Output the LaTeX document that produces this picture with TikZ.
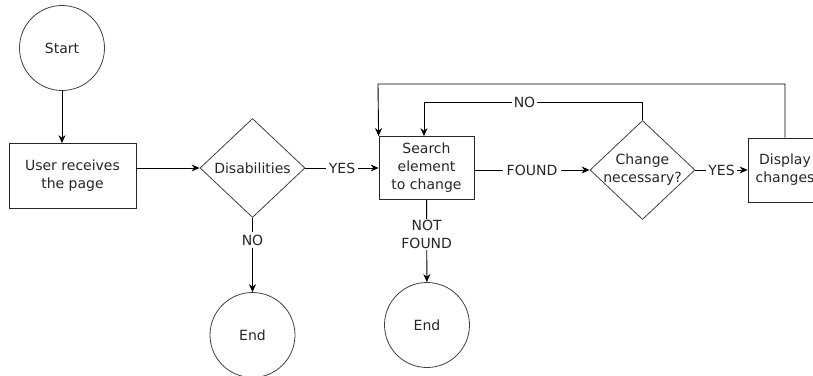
\documentclass[tikz,border=0pt]{standalone}
\usepackage{fontspec}
\setmainfont{DejaVu Sans}
\usetikzlibrary{positioning, shapes.geometric, arrows.meta}

\begin{document}
\begin{tikzpicture}[
    x=1pt, y=-1pt,
    font=\fontsize{14}{18}\selectfont,
    terminal/.style={circle, draw=black!75, line width=0.8pt, minimum size=85pt, inner sep=0pt, text=black!85},
    process/.style={rectangle, draw=black!85, line width=0.8pt, inner sep=0pt, align=center, text=black!85},
    decision/.style={diamond, draw=black!75, line width=0.8pt, inner sep=0pt, aspect=1.05, minimum width=105pt, minimum height=99pt, align=center, text=black!85},
    arrow/.style={-{Stealth[length=8pt, width=7pt]}, line width=0.9pt},
    lbl/.style={fill=white, inner sep=3pt, text=black!85, align=center}
]
\useasboundingbox (0,0) rectangle (813,375);
\clip (0,0) rectangle (813,375);

% Start and user
\node[terminal] (start) at (62,48) {Start};
\node[process, minimum width=127pt, minimum height=65pt] (user) at (72.5,176) {User receives\\the page};

% Decisions and processing
\node[decision] (dis) at (252.5,168) {Disabilities};
\node[process, minimum width=95pt, minimum height=63pt] (search) at (426.5,168) {Search\\element\\to change};
\node[decision, inner sep=-5pt] (chg) at (642.5,170) {Change\\necessary?};
\node[process, minimum width=74pt, minimum height=64pt] (disp) at (785,170) {Display\\changes};

% End states
\node[terminal] (end1) at (252.5,335) {End};
\node[terminal] (end2) at (427,325) {End};

% Loop corners
\coordinate (topturn) at (378,84);
\coordinate (noturn) at (424,102);

% Main flow
\draw[arrow] (start) -- (start |- user.north);
\draw[arrow] (dis.west -| user.east) -- (dis.west);
\draw[arrow] (dis) -- node[lbl]{YES} (search);
\draw[arrow] (search.east |- chg.west) -- node[lbl, inner sep=4pt]{FOUND} (chg.west);
\draw[arrow] (chg) -- node[lbl, inner sep=2pt]{YES} (disp);

% Exits
\draw[arrow] (dis) -- node[lbl, pos=0.3]{NO} (end1);
\draw[arrow] (search) -- node[lbl, pos=0.42, inner sep=1pt]{NOT\\FOUND} (end2);

% Loops back to search
\draw[arrow] (chg.north) |- node[lbl, pos=0.77, inner sep=2pt]{NO} (noturn) -- (noturn |- search.north);
\draw[arrow] (disp.north) |- (topturn) -- (search.north west);

\end{tikzpicture}
\end{document}
